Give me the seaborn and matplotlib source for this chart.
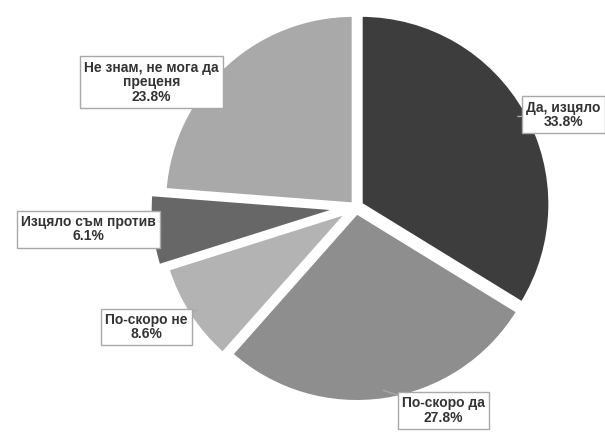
import numpy as np
import matplotlib
matplotlib.use("Agg")
import matplotlib.pyplot as plt
import seaborn as sns

categories = ["Да, изцяло", "По-скоро да", "По-скоро не", "Изцяло съм против", "Не знам, не мога да\nпреценя"]
values = [33.8, 27.8, 8.6, 6.1, 23.8]
pct_labels = ["33.8%", "27.8%", "8.6%", "6.1%", "23.8%"]
colors = ["#3d3d3d", "#8e8e8e", "#b3b3b3", "#676767", "#a9a9a9"]
explode = [0.03, 0.03, 0.05, 0.09, 0.02]

sns.set_theme(style="white")
plt.rcParams['font.family'] = ['Liberation Sans Narrow', 'Liberation Sans', 'DejaVu Sans']

fig = plt.figure(figsize=(6.05, 4.38), dpi=100)
R = 197.0
cx, cy = 356.0, 207.0
half = 1.2
W, H = 605.0, 438.0
ax = fig.add_axes([(cx - half * R) / W, (H - cy - half * R) / H, 2 * half * R / W, 2 * half * R / H])
ax.set_xlim(-half, half)
ax.set_ylim(-half, half)
ax.set_aspect('equal')
ax.axis('off')

wedges, _ = ax.pie(values, colors=colors, explode=explode, startangle=90, counterclock=False,
                   wedgeprops=dict(edgecolor='white', linewidth=2.5), radius=1.0)

def px2data(px, py):
    return (px - cx) / R, (cy - py) / R

label_px = [(572, 111), (447, 419), (138, 332), (77, 230), (143, 77)]
for w, cat, pct, (px, py), ex in zip(wedges, categories, pct_labels, label_px, explode):
    ang = np.deg2rad((w.theta1 + w.theta2) / 2)
    ccx, ccy = w.center
    ex_pt = (ccx + 0.95 * np.cos(ang), ccy + 0.95 * np.sin(ang))
    tx, ty = px2data(px, py)
    ax.annotate(cat + "\n" + pct, xy=ex_pt, xytext=(tx, ty), ha='center', va='center',
                fontsize=10, fontweight='bold', color='#333333', linespacing=1.05,
                bbox=dict(boxstyle='square,pad=0.3', fc='white', ec='#a8a8a8', lw=1),
                arrowprops=dict(arrowstyle='-', color='#a8a8a8', lw=1, shrinkA=0, shrinkB=0),
                annotation_clip=False)

fig.savefig("out.png", dpi=100)
